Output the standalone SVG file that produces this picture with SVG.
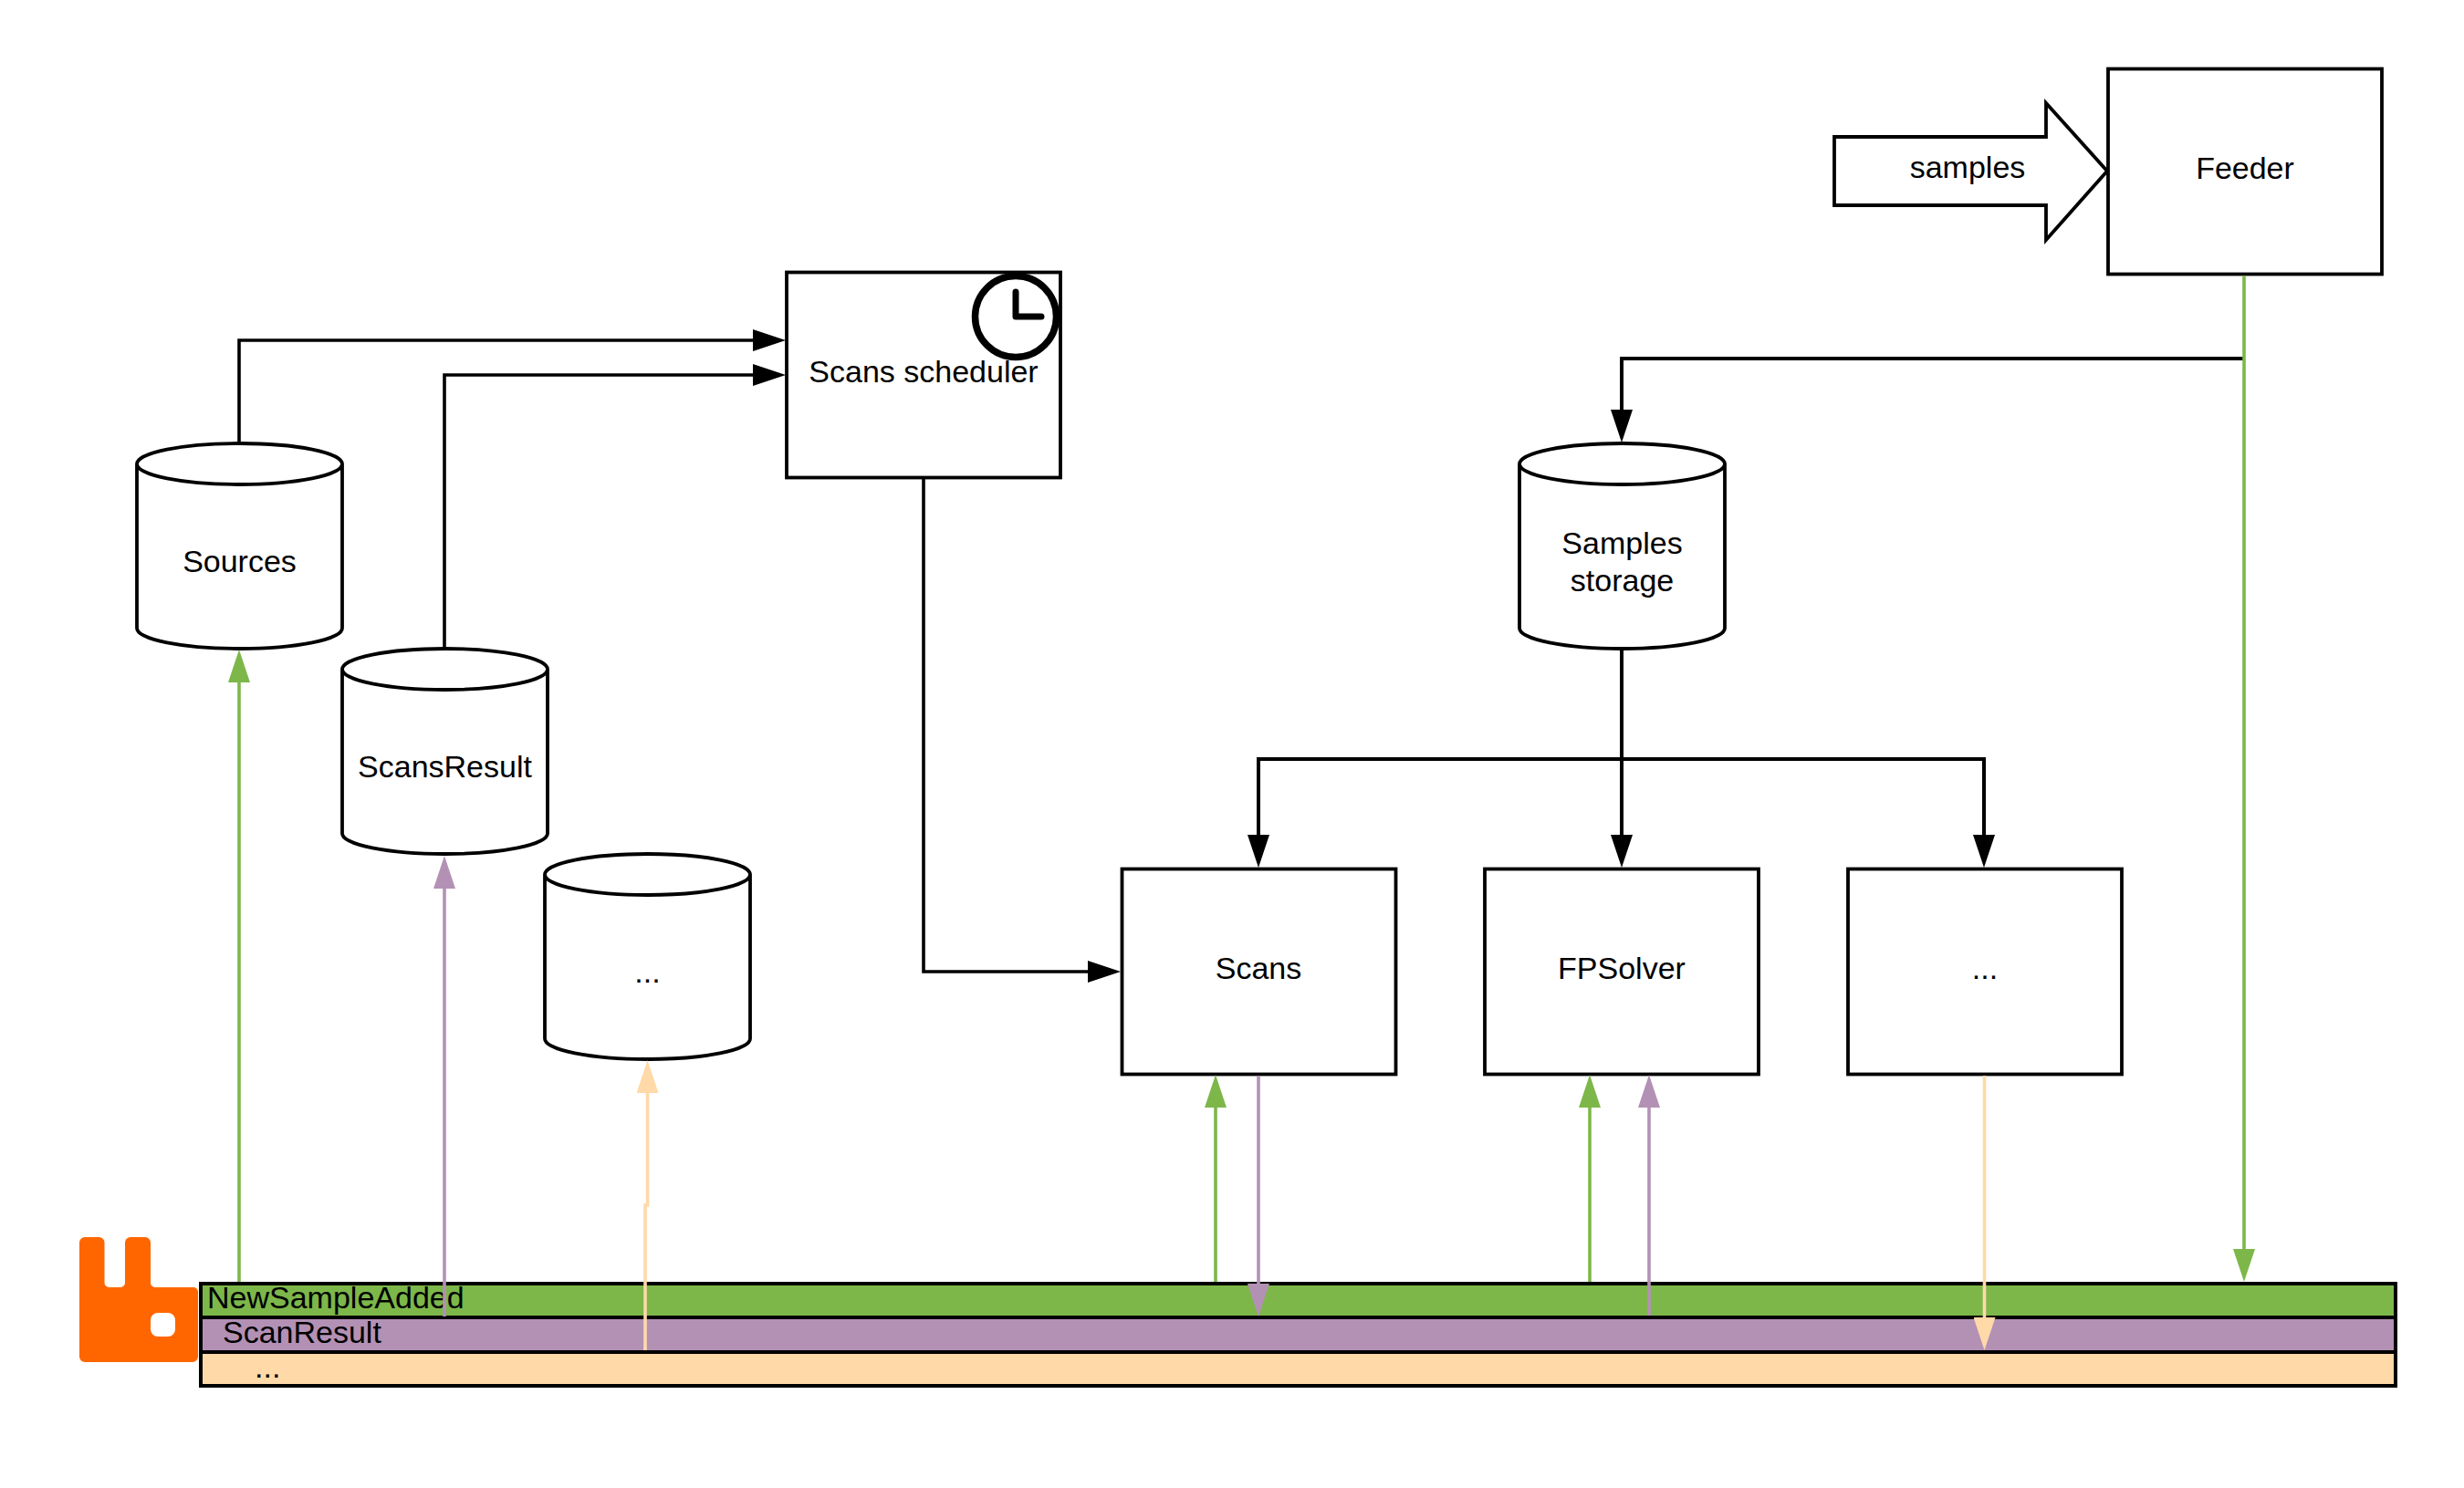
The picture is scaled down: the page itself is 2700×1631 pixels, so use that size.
<svg xmlns="http://www.w3.org/2000/svg" width="2700" height="1631" viewBox="0 0 2700 1631">
<style>
text{font-family:"Liberation Sans",Arial,sans-serif;font-size:34px;fill:#000}
.m{text-anchor:middle}
.n{fill:#fff;stroke:#000;stroke-width:3.8}
.c{fill:none;stroke-width:3.6}
.k{stroke:#000}.g{stroke:#7DB74A}.p{stroke:#B391B5}.o{stroke:#FFD9A8}
.bar{stroke:#000;stroke-width:4}
</style>
<defs>
<marker id="ak" markerUnits="userSpaceOnUse" viewBox="0 0 36 24" markerWidth="36" markerHeight="24" refX="1" refY="12" orient="auto"><path d="M0 0L36 12L0 24Z" fill="#000"/></marker>
<marker id="ag" markerUnits="userSpaceOnUse" viewBox="0 0 36 24" markerWidth="36" markerHeight="24" refX="1" refY="12" orient="auto"><path d="M0 0L36 12L0 24Z" fill="#7DB74A"/></marker>
<marker id="ap" markerUnits="userSpaceOnUse" viewBox="0 0 36 24" markerWidth="36" markerHeight="24" refX="1" refY="12" orient="auto"><path d="M0 0L36 12L0 24Z" fill="#B391B5"/></marker>
<marker id="ao" markerUnits="userSpaceOnUse" viewBox="0 0 36 24" markerWidth="36" markerHeight="24" refX="1" refY="12" orient="auto"><path d="M0 0L36 12L0 24Z" fill="#FFD9A8"/></marker>
<path id="cyl" d="M0 22.500A112.500 22.500 0 0 1 225 22.500V202.500A112.500 22.500 0 0 1 0 202.500ZM0 22.500A112.500 22.500 0 0 0 225 22.500"/>
</defs>
<g id="queues">
<rect id="q-new" class="bar" x="220" y="1407" width="2405" height="37" fill="#7DB74A"/>
<rect id="q-scan" class="bar" x="220" y="1444" width="2405" height="38" fill="#B391B5"/>
<rect id="q-other" class="bar" x="220" y="1482" width="2405" height="37" fill="#FFD9A8"/>
<text x="227" y="1434">NewSampleAdded</text>
<text x="244" y="1472">ScanResult</text>
<text x="279" y="1510">...</text>
</g>
<g id="rabbit"><path fill="#FF6600" fill-rule="evenodd" d="M87 1362a6 6 0 0 1 6-6h15.500a6 6 0 0 1 6 6V1406a5 5 0 0 0 5 5H132a5 5 0 0 0 5-5V1362a6 6 0 0 1 6-6h16a6 6 0 0 1 6 6V1406a5 5 0 0 0 5 5H212a5 5 0 0 1 5 5V1487a6 6 0 0 1-6 6H93a6 6 0 0 1-6-6ZM173 1439a8 8 0 0 0-8 8V1457a8 8 0 0 0 8 8H184a8 8 0 0 0 8-8V1447a8 8 0 0 0-8-8Z"/></g>
<g id="samples"><path class="n" d="M2010 150H2242V113L2309 187.500L2242 263V225H2010Z"/><text class="m" x="2156" y="195">samples</text></g>
<g id="feeder"><rect class="n" x="2310" y="75.500" width="300" height="225"/><text class="m" x="2460" y="196">Feeder</text></g>
<g id="scheduler"><rect class="n" x="862" y="298.500" width="300" height="225"/><text class="m" x="1012" y="419">Scans scheduler</text>
<circle cx="1113" cy="347" r="44.500" fill="none" stroke="#000" stroke-width="7.500"/><path d="M1113 320V347H1141" fill="none" stroke="#000" stroke-width="7" stroke-linecap="round" stroke-linejoin="round"/></g>
<g id="sources"><use href="#cyl" class="n" x="150" y="486"/><text class="m" x="262.500" y="627">Sources</text></g>
<g id="scansresult"><use href="#cyl" class="n" x="375" y="711"/><text class="m" x="487.500" y="852">ScansResult</text></g>
<g id="store-other"><use href="#cyl" class="n" x="597" y="936"/><text class="m" x="709.500" y="1077">...</text></g>
<g id="samples-storage"><use href="#cyl" class="n" x="1665" y="486"/><text class="m" x="1777.500" y="607">Samples</text><text class="m" x="1777.500" y="648">storage</text></g>
<g id="scans"><rect class="n" x="1229.500" y="952.500" width="300" height="225"/><text class="m" x="1379" y="1073">Scans</text></g>
<g id="fpsolver"><rect class="n" x="1627" y="952.500" width="300" height="225"/><text class="m" x="1777" y="1073">FPSolver</text></g>
<g id="worker-other"><rect class="n" x="2025" y="952.500" width="300" height="225"/><text class="m" x="2175" y="1073">...</text></g>
<g id="connectors">
<path class="c k" d="M262 484V373H826" marker-end="url(#ak)"/>
<path class="c k" d="M487 709V411H826" marker-end="url(#ak)"/>
<path class="c k" d="M1012 525V1065H1193" marker-end="url(#ak)"/>
<path class="c k" style="stroke-width:4" d="M2458 393H1777V450" marker-end="url(#ak)"/>
<path class="c k" style="stroke-width:4" d="M1777 711V916" marker-end="url(#ak)"/>
<path class="c k" style="stroke-width:4" d="M1777 832H1379V916" marker-end="url(#ak)"/>
<path class="c k" style="stroke-width:4" d="M1777 832H2174V916" marker-end="url(#ak)"/>
<path class="c g" d="M2459 302V1370" marker-end="url(#ag)"/>
<path class="c g" d="M262 1405V747" marker-end="url(#ag)"/>
<path class="c g" d="M1332 1405V1213" marker-end="url(#ag)"/>
<path class="c g" d="M1742 1405V1213" marker-end="url(#ag)"/>
<path class="c p" d="M487 1443V973" marker-end="url(#ap)"/>
<path class="c p" d="M1807 1442V1213" marker-end="url(#ap)"/>
<path class="c p" d="M1379 1179V1408" marker-end="url(#ap)"/>
<path class="c o" d="M707 1480V1321H709.500V1197" marker-end="url(#ao)"/>
<path class="c o" d="M2174.500 1179V1445" marker-end="url(#ao)"/>
</g>
</svg>
